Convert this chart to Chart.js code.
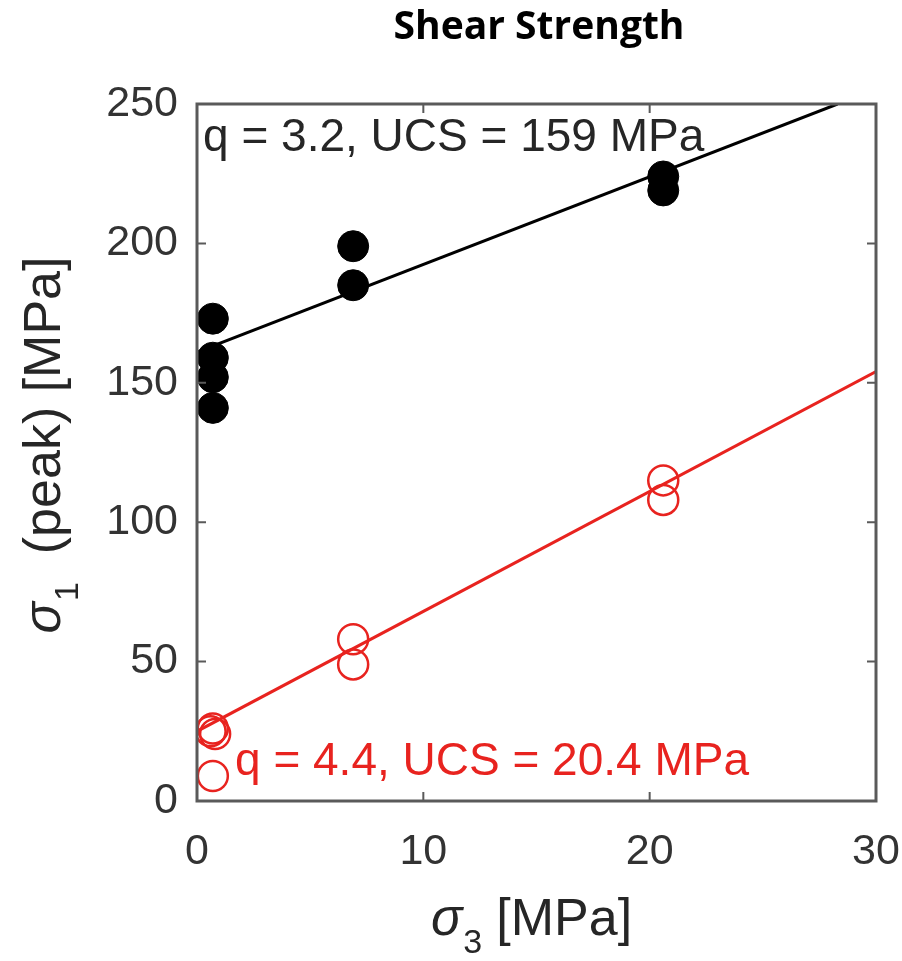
<!DOCTYPE html>
<html>
<head>
<meta charset="utf-8">
<script src="https://cdn.jsdelivr.net/npm/chart.js@4.4.1/dist/chart.umd.min.js"></script>
<style>
  html, body { margin: 0; padding: 0; background: #fff; }
  #wrap { width: 902px; height: 961px; }
</style>
</head>
<body>
<div id="wrap"><canvas id="chart"></canvas></div>
<script>
/* DATA */
const chartTitle = "Shear Strength";
const sigma3Intact = [0.7, 0.7, 0.7, 0.7, 6.9, 6.9, 20.6, 20.6];
const sigma1Intact = [173, 159, 152, 141, 199, 185, 224, 219];
const sigma3Residual = [0.7, 0.8, 0.6, 0.7, 6.9, 6.9, 20.6, 20.6];
const sigma1Residual = [26, 24, 25, 9, 58, 49, 115, 108];
const fitIntactX = [0, 28.3];
const fitIntactY = [161, 250];
const fitResidualX = [0, 30];
const fitResidualY = [25, 154];
const xTicks = [0, 10, 20, 30];
const yTicks = [0, 50, 100, 150, 200, 250];
const labelIntact = "q = 3.2, UCS = 159 MPa";
const labelResidual = "q = 4.4, UCS = 20.4 MPa";

const RED = "#e8231f";
const FONT = "'Liberation Sans', Arial, sans-serif";

const toPoints = (xs, ys) => xs.map((x, i) => ({ x: x, y: ys[i] }));

/* custom drawing: title, frame, inner ticks, axis titles, notes */
const decor = {
  id: "decor",
  afterDatasetsDraw(chart) {
    const { ctx, chartArea: a, scales } = chart;
    const xs = scales.x, ys = scales.y;
    ctx.save();

    // frame
    ctx.strokeStyle = "#5a5a5a";
    ctx.lineWidth = 3;
    ctx.strokeRect(a.left, a.top, a.right - a.left, a.bottom - a.top);

    // inward ticks
    ctx.lineWidth = 2;
    ctx.beginPath();
    xTicks.forEach(v => {
      const px = xs.getPixelForValue(v);
      ctx.moveTo(px, a.bottom); ctx.lineTo(px, a.bottom - 9);
      ctx.moveTo(px, a.top); ctx.lineTo(px, a.top + 9);
    });
    yTicks.forEach(v => {
      const py = ys.getPixelForValue(v);
      ctx.moveTo(a.left, py); ctx.lineTo(a.left + 9, py);
      ctx.moveTo(a.right, py); ctx.lineTo(a.right - 9, py);
    });
    ctx.stroke();

    // notes
    ctx.textBaseline = "alphabetic";
    ctx.textAlign = "left";
    ctx.font = "46px " + FONT;
    ctx.fillStyle = "#262626";
    ctx.fillText(labelIntact, xs.getPixelForValue(0.27), ys.getPixelForValue(233));
    ctx.fillStyle = RED;
    ctx.fillText(labelResidual, xs.getPixelForValue(1.68), ys.getPixelForValue(9.3));

    // title
    ctx.fillStyle = "#000";
    ctx.textAlign = "center";
    ctx.textBaseline = "middle";
    ctx.font = "bold 39px 'Open Sans', Lato, sans-serif";
    ctx.fillText(chartTitle, 539, 28);

    // x title
    ctx.fillStyle = "#262626";
    ctx.textBaseline = "alphabetic";
    ctx.textAlign = "left";
    let x0 = 431, base = 935;
    ctx.font = "italic 52px " + FONT;
    ctx.fillText("σ", x0, base);
    x0 += ctx.measureText("σ").width + 1;
    ctx.font = "34px " + FONT;
    ctx.fillText("3", x0, base + 18);
    x0 += ctx.measureText("3").width + 14;
    ctx.font = "52px " + FONT;
    ctx.fillText("[MPa]", x0, base);

    // y title (rotated)
    ctx.translate(60, 445);
    ctx.rotate(-Math.PI / 2);
    ctx.font = "italic 52px " + FONT;
    const wS = ctx.measureText("σ").width;
    ctx.font = "34px " + FONT;
    const w1 = ctx.measureText("1").width;
    ctx.font = "52px " + FONT;
    const rest = "(peak) [MPa]";
    const wR = ctx.measureText(rest).width;
    const gap = 28;
    const total = wS + 1 + w1 + gap + wR;
    let p = -total / 2;
    ctx.font = "italic 52px " + FONT;
    ctx.fillText("σ", p, 0);
    p += wS + 1;
    ctx.font = "34px " + FONT;
    ctx.fillText("1", p, 18);
    p += w1 + gap;
    ctx.font = "52px " + FONT;
    ctx.fillText(rest, p, 0);

    ctx.restore();
  }
};

new Chart(document.getElementById("chart"), {
  type: "scatter",
  data: {
    datasets: [
      {
        label: "fit intact",
        data: toPoints(fitIntactX, fitIntactY),
        showLine: true,
        borderColor: "#000",
        borderWidth: 3,
        pointRadius: 0,
        order: 1
      },
      {
        label: "fit residual",
        data: toPoints(fitResidualX, fitResidualY),
        showLine: true,
        borderColor: RED,
        borderWidth: 3,
        pointRadius: 0,
        order: 1
      },
      {
        label: "intact",
        data: toPoints(sigma3Intact, sigma1Intact),
        pointRadius: 15.5,
        pointBackgroundColor: "#000",
        pointBorderColor: "#000",
        pointBorderWidth: 1,
        order: 2
      },
      {
        label: "residual",
        data: toPoints(sigma3Residual, sigma1Residual),
        pointRadius: 15,
        pointBackgroundColor: "rgba(0,0,0,0)",
        pointBorderColor: RED,
        pointBorderWidth: 2.5,
        order: 2
      }
    ]
  },
  options: {
    responsive: true,
    maintainAspectRatio: false,
    animation: false,
    layout: { padding: { top: 104, right: 26, left: 0, bottom: 0 } },
    plugins: {
      legend: { display: false },
      tooltip: { enabled: false }
    },
    scales: {
      x: {
        type: "linear",
        min: 0,
        max: 30,
        afterBuildTicks: s => { s.ticks = xTicks.map(v => ({ value: v })); },
        afterFit: s => { s.height = 160; s.paddingLeft = 0; s.paddingRight = 0; },
        grid: { display: false, drawTicks: false },
        border: { display: false },
        ticks: { font: { size: 43, family: FONT }, color: "#333", padding: 25, maxRotation: 0 }
      },
      y: {
        type: "linear",
        min: 0,
        max: 250,
        afterBuildTicks: s => { s.ticks = yTicks.map(v => ({ value: v })); },
        afterFit: s => { s.width = 197; s.paddingTop = 0; s.paddingBottom = 0; },
        grid: { display: false, drawTicks: false },
        border: { display: false },
        ticks: { font: { size: 43, family: FONT }, color: "#333", padding: 19 }
      }
    }
  },
  plugins: [decor]
});
</script>
</body>
</html>
